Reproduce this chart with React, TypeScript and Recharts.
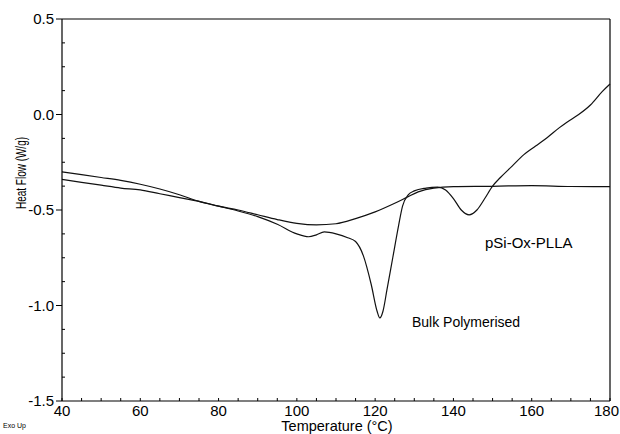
import { LineChart, Line, XAxis, YAxis, ReferenceLine } from 'recharts';

// DSC traces: temperature (°C) and heat flow (W/g)
const bulkTemp = [
  40, 45, 50, 55, 60, 65, 70, 75, 80, 85, 90, 95, 100, 103, 105, 107, 110, 113, 115, 117, 119,
  120.5, 121.2, 122, 123, 124.5, 126, 127, 128.5, 130, 133, 136, 138, 140, 142, 144, 146, 148,
  150, 152, 155, 158, 161, 164, 167, 169, 172, 175, 178, 180,
];
const bulkFlow = [
  -0.3, -0.315, -0.33, -0.345, -0.365, -0.39, -0.42, -0.455, -0.48, -0.505, -0.535, -0.575,
  -0.625, -0.64, -0.63, -0.615, -0.625, -0.645, -0.665, -0.74, -0.89, -1.03, -1.065, -1.03,
  -0.92, -0.75, -0.58, -0.48, -0.42, -0.4, -0.385, -0.38, -0.395, -0.44, -0.5, -0.525, -0.5,
  -0.44, -0.375, -0.33, -0.27, -0.21, -0.165, -0.12, -0.07, -0.04, 0.0, 0.05, 0.12, 0.16,
];
const psiTemp = [
  40, 45, 50, 55, 60, 65, 70, 75, 80, 85, 90, 95, 100, 105, 110, 115, 120, 125, 128, 131, 135,
  140, 150, 160, 170, 180,
];
const psiFlow = [
  -0.34, -0.355, -0.37, -0.385, -0.395, -0.415, -0.435, -0.455, -0.48, -0.5, -0.525, -0.55,
  -0.57, -0.578, -0.572, -0.545, -0.51, -0.465, -0.435, -0.405, -0.385, -0.378, -0.376, -0.372,
  -0.377, -0.378,
];

const xMajorTicks = [40, 60, 80, 100, 120, 140, 160, 180];
const yMajorTicks = [0.5, 0.0, -0.5, -1.0, -1.5];
const yTickLabels = ['0.5', '0.0', '-0.5', '-1.0', '-1.5'];

const xTicks: number[] = [];
for (let t = 40; t <= 180; t += 5) xTicks.push(t);
const yTicks: number[] = [];
for (let i = 0; i <= 16; i++) yTicks.push(0.5 - i * 0.125);

const bulkData = bulkTemp.map((t, i) => ({ temp: t, flow: bulkFlow[i] }));
const psiData = psiTemp.map((t, i) => ({ temp: t, flow: psiFlow[i] }));

const FONT = '"Liberation Sans", Arial, sans-serif';

function XTick(props: any) {
  const { x, y, payload } = props;
  const major = xMajorTicks.includes(payload.value);
  // last label sits against the page edge, keep it inside
  const last = payload.value === xMajorTicks[xMajorTicks.length - 1];
  return (
    <g>
      <line x1={x} y1={y} x2={x} y2={y - 3} stroke="#000" strokeWidth={1} />
      {major && (
        <text
          x={last ? x + 9 : x}
          y={y + 15}
          textAnchor={last ? 'end' : 'middle'}
          fontSize={15}
          fontFamily={FONT}
          fill="#000"
        >
          {payload.value}
        </text>
      )}
    </g>
  );
}

function YTick(props: any) {
  const { x, y, payload } = props;
  const idx = yMajorTicks.findIndex((v) => Math.abs(v - payload.value) < 1e-6);
  if (idx < 0) {
    return <line x1={x} y1={y} x2={x + 3} y2={y} stroke="#000" strokeWidth={1} />;
  }
  return (
    <g>
      <line x1={x - 6} y1={y} x2={x} y2={y} stroke="#000" strokeWidth={1} />
      <text x={x - 8} y={y + 5} textAnchor="end" fontSize={15} fontFamily={FONT} fill="#000">
        {yTickLabels[idx]}
      </text>
    </g>
  );
}

export default function App() {
  return (
    <div style={{ position: 'absolute', left: 0, top: 0, width: 620, height: 434, background: '#fff' }}>
      <LineChart width={620} height={434} margin={{ top: 19, right: 10, bottom: 0, left: 0 }}>
        <XAxis
          dataKey="temp"
          type="number"
          domain={[40, 180]}
          ticks={xTicks}
          interval={0}
          height={33}
          tickSize={0}
          tickMargin={0}
          tick={<XTick />}
          axisLine={{ stroke: '#000', strokeWidth: 1.2 }}
          allowDuplicatedCategory={false}
        />
        <YAxis
          type="number"
          domain={[-1.5, 0.5]}
          ticks={yTicks}
          interval={0}
          width={62}
          tickSize={0}
          tickMargin={0}
          tick={<YTick />}
          axisLine={{ stroke: '#000', strokeWidth: 1.2 }}
        />
        <ReferenceLine y={0.5} stroke="#000" strokeWidth={1.2} />
        <ReferenceLine x={180} stroke="#000" strokeWidth={1.2} />
        <Line
          data={bulkData}
          dataKey="flow"
          type="monotone"
          stroke="#111"
          strokeWidth={1.2}
          dot={false}
          isAnimationActive={false}
        />
        <Line
          data={psiData}
          dataKey="flow"
          type="monotone"
          stroke="#111"
          strokeWidth={1.2}
          dot={false}
          isAnimationActive={false}
        />
      </LineChart>
      <svg
        width={620}
        height={434}
        style={{ position: 'absolute', left: 0, top: 0, pointerEvents: 'none' }}
        fontFamily={FONT}
      >
        <text x={485} y={248} fontSize={15} fill="#000">pSi-Ox-PLLA</text>
        <text x={412} y={327} fontSize={14} fill="#000">Bulk Polymerised</text>
        <text x={337} y={431} fontSize={14.5} textAnchor="middle" fill="#000">Temperature (°C)</text>
        <text
          transform="translate(26,173) rotate(-90)"
          fontSize={14}
          textAnchor="middle"
          textLength={72}
          lengthAdjust="spacingAndGlyphs"
          fill="#000"
        >
          Heat Flow (W/g)
        </text>
        <text x={3} y={428} fontSize={7} fill="#000">Exo Up</text>
      </svg>
    </div>
  );
}
